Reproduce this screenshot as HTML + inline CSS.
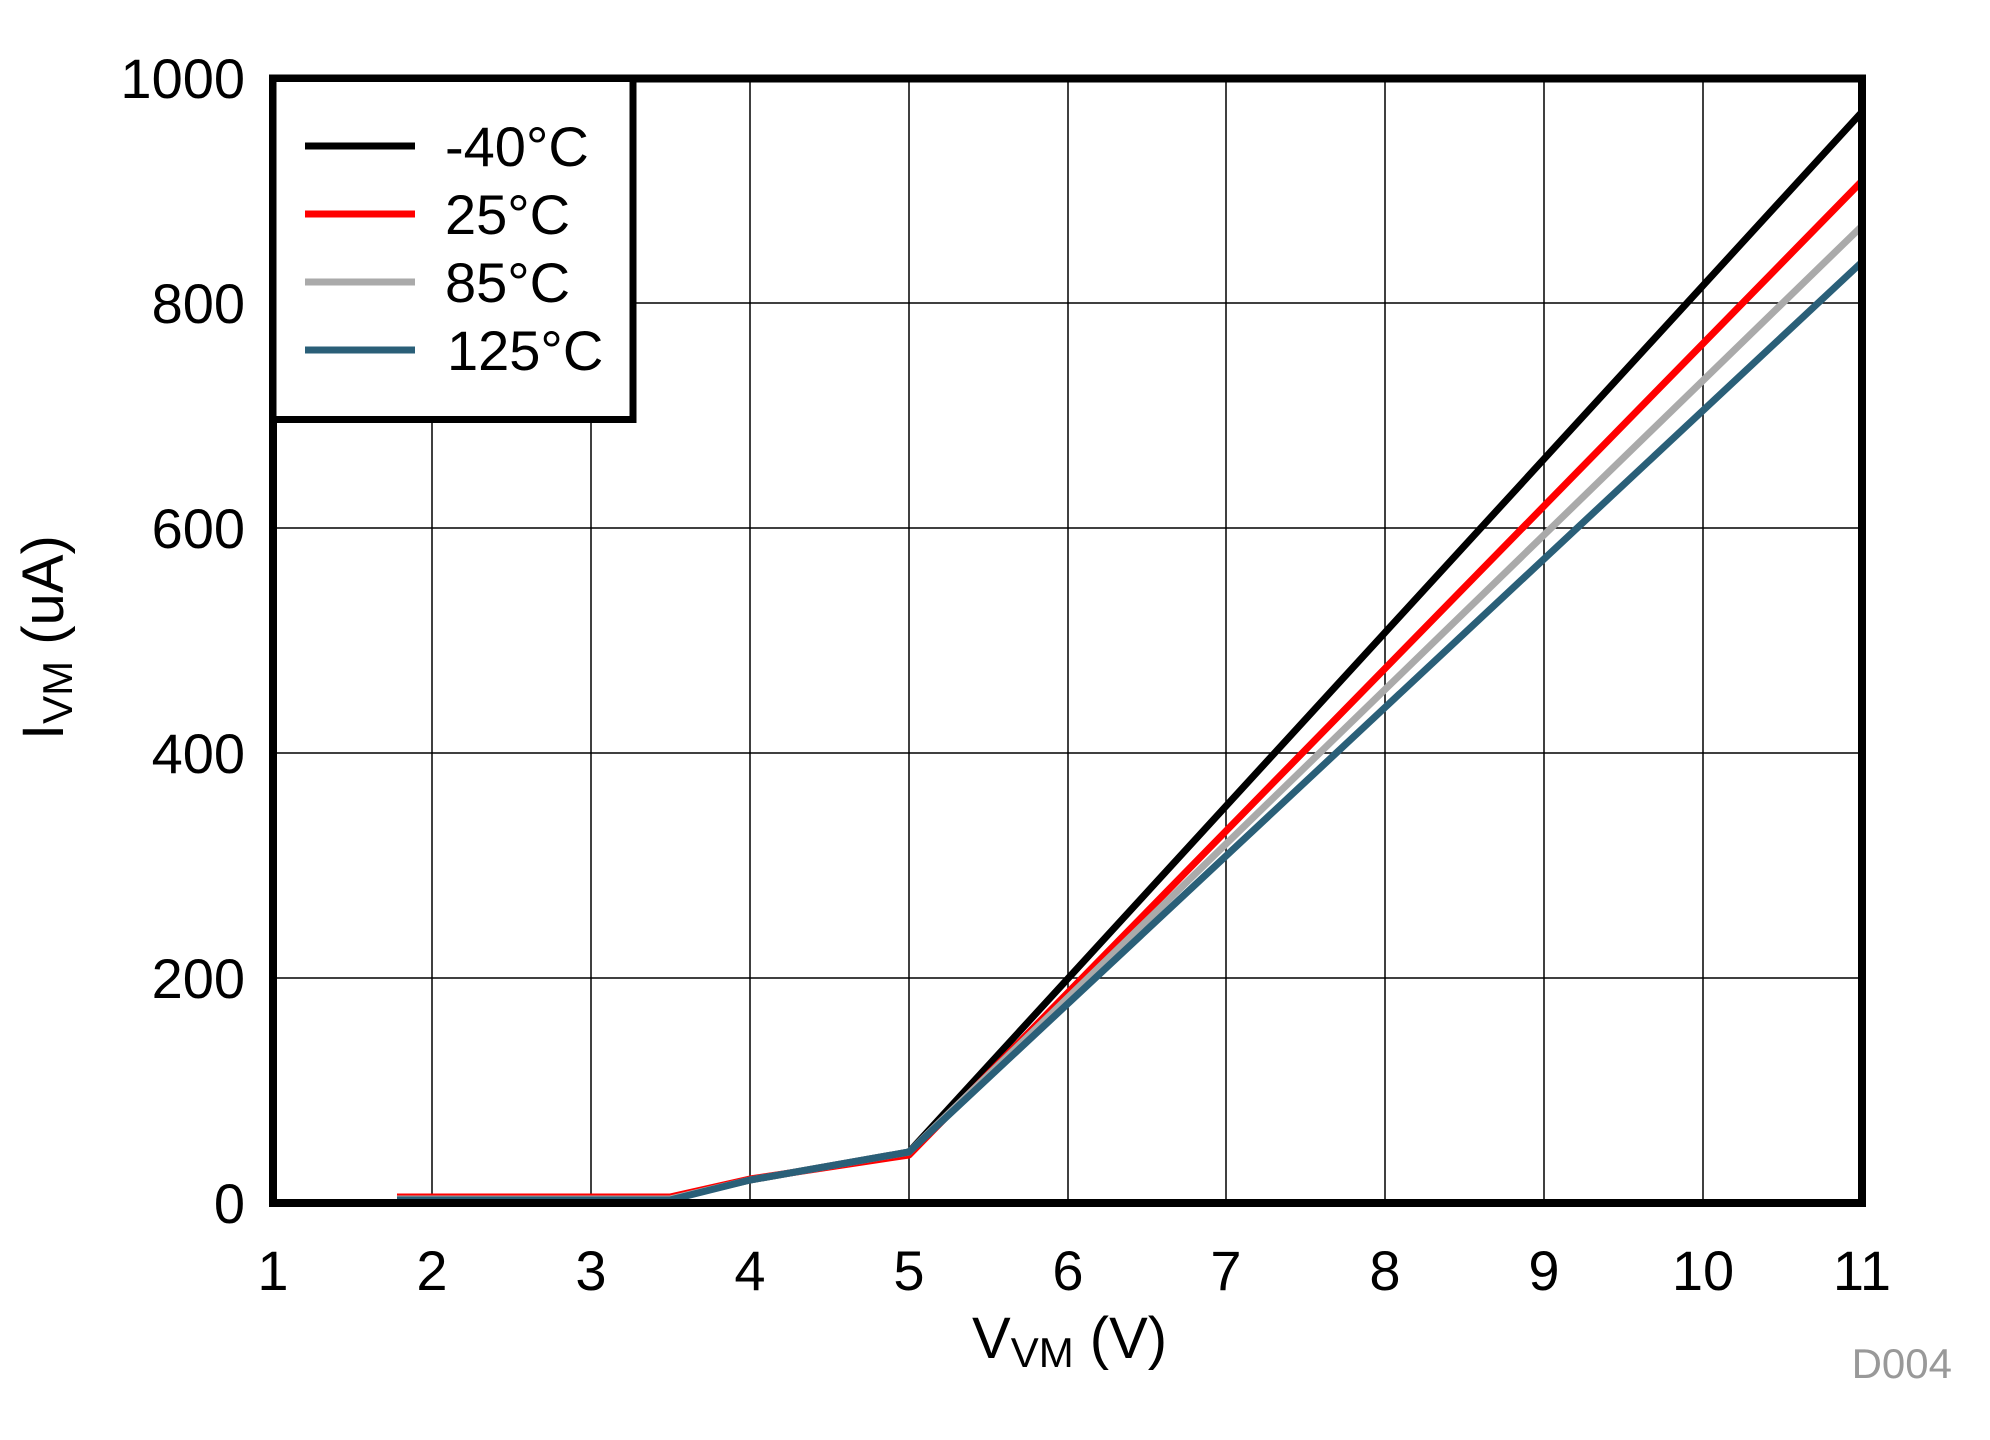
<!DOCTYPE html>
<html><head><meta charset="utf-8"><style>
html,body{margin:0;padding:0;background:#fff;}
svg{display:block;}
text{font-family:"Liberation Sans",Arial,sans-serif;}
</style></head><body>
<svg width="1990" height="1440" viewBox="0 0 1990 1440" xmlns="http://www.w3.org/2000/svg">
<rect width="1990" height="1440" fill="#fff"/>
<!-- grid -->
<g stroke="#000" stroke-width="1.5">
<line x1="432" y1="78" x2="432" y2="1203"/>
<line x1="591" y1="78" x2="591" y2="1203"/>
<line x1="750" y1="78" x2="750" y2="1203"/>
<line x1="909" y1="78" x2="909" y2="1203"/>
<line x1="1068" y1="78" x2="1068" y2="1203"/>
<line x1="1226" y1="78" x2="1226" y2="1203"/>
<line x1="1385" y1="78" x2="1385" y2="1203"/>
<line x1="1544" y1="78" x2="1544" y2="1203"/>
<line x1="1703" y1="78" x2="1703" y2="1203"/>
<line x1="273" y1="978" x2="1862" y2="978"/>
<line x1="273" y1="753" x2="1862" y2="753"/>
<line x1="273" y1="528" x2="1862" y2="528"/>
<line x1="273" y1="303" x2="1862" y2="303"/>
</g>
<!-- series -->
<g fill="none" stroke-width="7" stroke-linejoin="round">
<polyline stroke="#000" points="397,1199 670,1199 750,1180 909,1152 1862,112"/>
<polyline stroke="#ff0000" points="397,1197 670,1197 750,1179 909,1155 1862,181"/>
<polyline stroke="#aaaaaa" points="397,1199 670,1199 750,1180 909,1152 1862,226"/>
<polyline stroke="#2a5f78" points="397,1200 670,1200 750,1180 909,1152 1862,262"/>
</g>
<!-- frame -->
<rect x="273" y="78.5" width="1589" height="1124.5" fill="none" stroke="#000" stroke-width="8"/>
<!-- legend -->
<rect x="273" y="78.5" width="360" height="341" fill="#fff" stroke="#000" stroke-width="7"/>
<g stroke-width="7">
<line x1="305" y1="146" x2="415" y2="146" stroke="#000"/>
<line x1="305" y1="214" x2="415" y2="214" stroke="#ff0000"/>
<line x1="305" y1="282" x2="415" y2="282" stroke="#aaaaaa"/>
<line x1="305" y1="350" x2="415" y2="350" stroke="#2a5f78"/>
</g>
<g font-size="56" fill="#000">
<text x="445" y="166">-40°C</text>
<text x="445" y="234">25°C</text>
<text x="445" y="302">85°C</text>
<text x="447" y="370">125°C</text>
</g>
<!-- y ticks -->
<g font-size="56" text-anchor="end" fill="#000">
<text x="245" y="98">1000</text>
<text x="245" y="323">800</text>
<text x="245" y="548">600</text>
<text x="245" y="773">400</text>
<text x="245" y="998">200</text>
<text x="245" y="1223">0</text>
</g>
<!-- x ticks -->
<g font-size="56" text-anchor="middle" fill="#000">
<text x="273" y="1290">1</text>
<text x="432" y="1290">2</text>
<text x="591" y="1290">3</text>
<text x="750" y="1290">4</text>
<text x="909" y="1290">5</text>
<text x="1068" y="1290">6</text>
<text x="1226" y="1290">7</text>
<text x="1385" y="1290">8</text>
<text x="1544" y="1290">9</text>
<text x="1703" y="1290">10</text>
<text x="1862" y="1290">11</text>
</g>
<!-- axis titles -->
<text x="972" y="1358" font-size="58" fill="#000">V<tspan font-size="42" dy="9">VM</tspan><tspan dy="-9"> (V)</tspan></text>
<text transform="translate(63,740) rotate(-90)" font-size="58" fill="#000">I<tspan font-size="42" dy="9">VM</tspan><tspan dy="-9"> (uA)</tspan></text>
<text x="1952" y="1378" font-size="42" text-anchor="end" fill="#999">D004</text>
</svg>
</body></html>
